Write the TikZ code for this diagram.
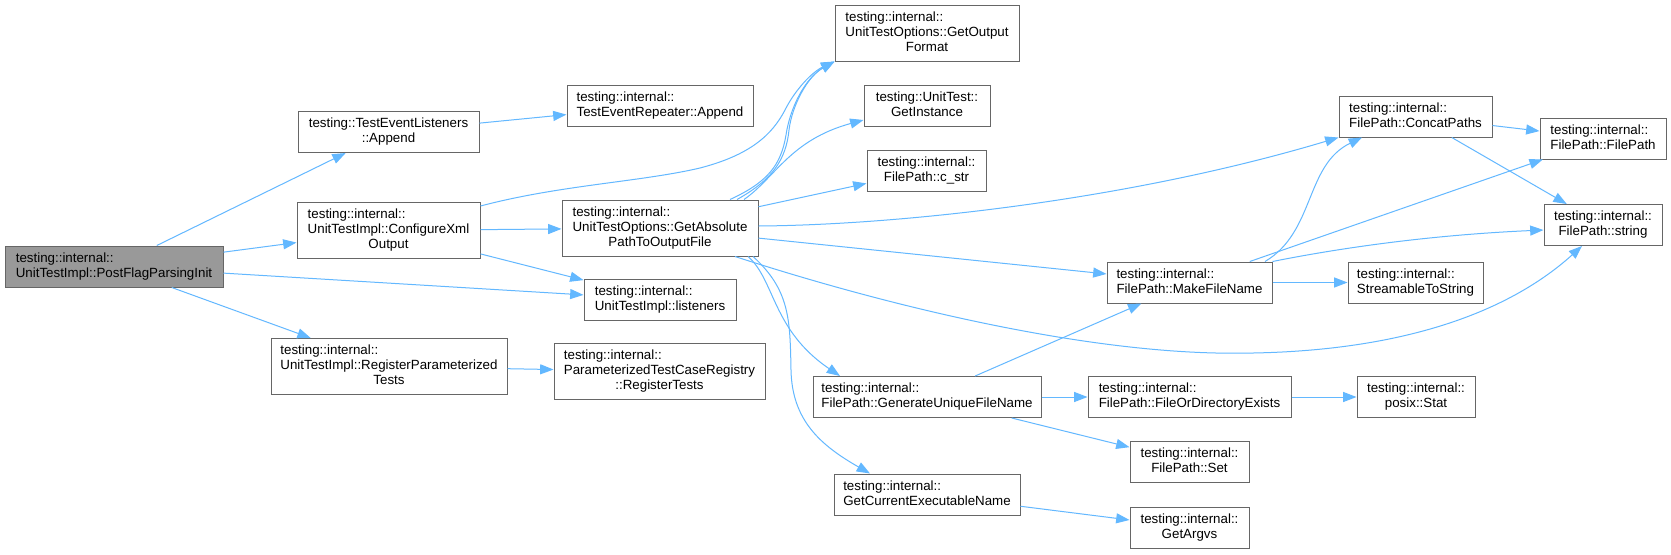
\documentclass[tikz,border=0pt]{standalone}
\usepackage{fontspec}
\setmainfont{Liberation Sans}
\usetikzlibrary{arrows.meta}
\definecolor{edgeblue}{HTML}{63B8FF}
\definecolor{boxline}{HTML}{666666}
\definecolor{rootfill}{HTML}{999999}
\newcommand\lbl[2]{\begin{tabular}{@{}l@{}}#1\\\multicolumn{1}{@{}c@{}}{#2}\end{tabular}}
\tikzset{
  fn/.style={draw=boxline, line width=0.75pt, fill=white, inner sep=0pt,
    font=\fontsize{10}{11.25}\selectfont, align=center},
  wh/.style 2 args={minimum width=#1*0.75pt, minimum height=#2*0.75pt},
  rootfn/.style={fn, fill=rootfill},
  call/.style={draw=edgeblue, line width=0.75pt, -{Triangle[length=10pt,width=7.5pt]}},
}
\begin{document}
\begin{tikzpicture}[x=0.75pt,y=-0.75pt]
\useasboundingbox (0,0) rectangle (1671,554);
\fill[white] (0,0) rectangle (1671,554);
% column 1
\node[rootfn, wh={218}{41}] (post) at (114,266.5) {\lbl{testing::internal::}{UnitTestImpl::PostFlagParsingInit}};
% column 2
\node[fn, wh={181}{41}] (tel) at (388.5,132) {\lbl{testing::TestEventListeners}{::Append}};
\node[fn, wh={183}{56}] (cfg) at (388.5,230.5) {\lbl{testing::internal::\\UnitTestImpl::ConfigureXml}{Output}};
\node[fn, wh={236}{56}] (rpt) at (389,366.5) {\lbl{testing::internal::\\UnitTestImpl::RegisterParameterized}{Tests}};
% column 3
\node[fn, wh={186}{41}] (ter) at (660,105.5) {\lbl{testing::internal::}{TestEventRepeater::Append}};
\node[fn, wh={196}{56}] (abs) at (660,228) {\lbl{testing::internal::\\UnitTestOptions::GetAbsolute}{PathToOutputFile}};
\node[fn, wh={152}{41}] (lis) at (660,299.5) {\lbl{testing::internal::}{UnitTestImpl::listeners}};
\node[fn, wh={211}{56}] (reg) at (659.5,371.5) {\lbl{testing::internal::\\ParameterizedTestCaseRegistry}{::RegisterTests}};
% column 4
\node[fn, wh={184}{56}] (fmt) at (927,33) {\lbl{testing::internal::\\UnitTestOptions::GetOutput}{Format}};
\node[fn, wh={126}{41}] (ins) at (927,105.5) {\lbl{testing::UnitTest::}{GetInstance}};
\node[fn, wh={119}{41}] (cst) at (926.5,170.5) {\lbl{testing::internal::}{FilePath::c\_str}};
\node[fn, wh={228}{41}] (gen) at (927,397) {\lbl{testing::internal::}{FilePath::GenerateUniqueFileName}};
\node[fn, wh={186}{41}] (exe) at (927,494.5) {\lbl{testing::internal::}{GetCurrentExecutableName}};
% column 5
\node[fn, wh={165}{41}] (mk) at (1189.5,282.5) {\lbl{testing::internal::}{FilePath::MakeFileName}};
\node[fn, wh={203}{41}] (fod) at (1189.5,397) {\lbl{testing::internal::}{FilePath::FileOrDirectoryExists}};
\node[fn, wh={119}{41}] (set) at (1189.5,462) {\lbl{testing::internal::}{FilePath::Set}};
\node[fn, wh={119}{41}] (argv) at (1189.5,527.5) {\lbl{testing::internal::}{GetArgvs}};
% column 6
\node[fn, wh={153}{41}] (cat) at (1415.5,116.5) {\lbl{testing::internal::}{FilePath::ConcatPaths}};
\node[fn, wh={135}{41}] (str) at (1415.5,282.5) {\lbl{testing::internal::}{StreamableToString}};
\node[fn, wh={118}{41}] (stat) at (1416,397) {\lbl{testing::internal::}{posix::Stat}};
% column 7
\node[fn, wh={126}{41}] (fp) at (1603,138.5) {\lbl{testing::internal::}{FilePath::FilePath}};
\node[fn, wh={118}{41}] (fstr) at (1603,225) {\lbl{testing::internal::}{FilePath::string}};
% edges
\draw[call] (post) -- (tel);
\draw[call] (post) -- (cfg);
\draw[call] (post) -- (lis);
\draw[call] (post) -- (rpt);
\draw[call] (tel) -- (ter);
\draw[call] (cfg.east |- 0,206) .. controls (560,185) and (640,182) .. (700,168) .. controls (750,155) and (772,135) .. (785,110) .. controls (795,90) and (812,72) .. (fmt.south west);
\draw[call] (cfg) -- (abs);
\draw[call] (cfg) -- (lis);
\draw[call] (rpt) -- (reg);
\draw[call] (abs.north -| 730,0) .. controls (768,182) and (781,165) .. (786,135) .. controls (790,108) and (805,78) .. (fmt.south west);
\draw[call] (abs.north -| 737,0) .. controls (772,180) and (786,160) .. (789,130) .. controls (792,105) and (808,76) .. (fmt.south west);
\draw[call] (abs.north -| 744,0) .. controls (775,178) and (790,140) .. (ins.west |- 0,120);
\draw[call] (abs) -- (cst);
\draw[call] (abs.east |- 0,226) .. controls (900,225) and (1130,200) .. (cat.south west);
\draw[call] (abs) -- (mk);
\draw[call] (abs.south -| 735,0) .. controls (900,310) and (1080,350) .. (1216,353) .. controls (1380,356) and (1500,320) .. (fstr.south -| 1582,0);
\draw[call] (abs.south -| 748,0) .. controls (775,280) and (772,330) .. (gen.north -| 840,0);
\draw[call] (abs.south -| 753,0) .. controls (790,290) and (790,320) .. (791,370) .. controls (792,420) and (820,445) .. (exe.north -| 870,0);
\draw[call] (gen) -- (mk);
\draw[call] (gen) -- (fod);
\draw[call] (gen) -- (set);
\draw[call] (exe) -- (argv);
\draw[call] (fod) -- (stat);
\draw[call] (mk.north -| 1265,0) .. controls (1315,232) and (1305,165) .. (cat.south -| 1362,0);
\draw[call] (mk) -- (fp);
\draw[call] (mk.north east) .. controls (1340,248) and (1430,235) .. (fstr.west |- 0,230);
\draw[call] (mk) -- (str);
\draw[call] (cat) -- (fp);
\draw[call] (cat) -- (fstr);
\end{tikzpicture}
\end{document}
